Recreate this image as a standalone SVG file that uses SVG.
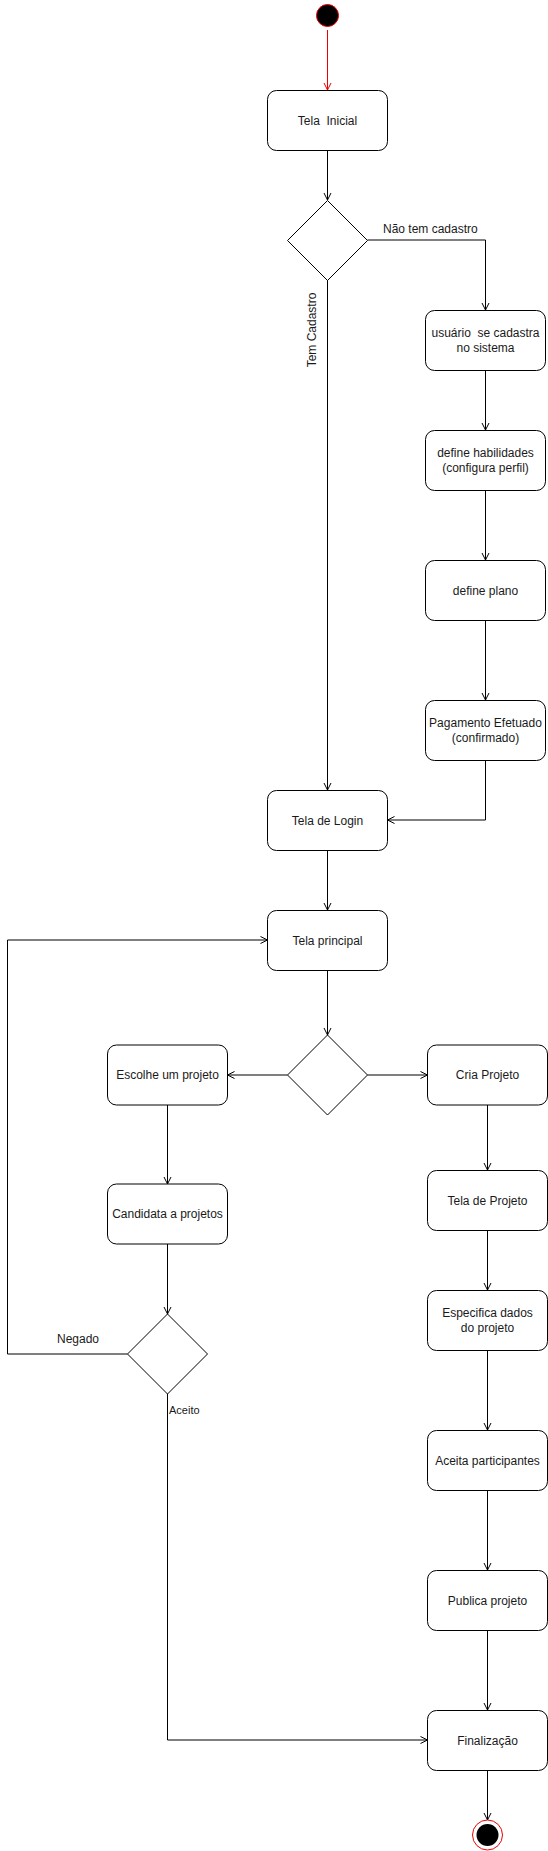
<svg xmlns="http://www.w3.org/2000/svg" width="548" height="1851" viewBox="0 0 548 1851">
<style>
.box{fill:#fff;stroke:#000;stroke-width:1}
.dia{fill:#fff;stroke:#000;stroke-width:1}
.t{font-family:"Liberation Sans",Arial,sans-serif;font-size:12px;fill:#1a1a1a;text-anchor:middle;dominant-baseline:central;white-space:pre}
.lbl{font-family:"Liberation Sans",Arial,sans-serif;font-size:12px;fill:#1a1a1a;dominant-baseline:central;white-space:pre}
.e{fill:none;stroke:#000;stroke-width:1;marker-end:url(#arr)}
.er{fill:none;stroke:#e00;stroke-width:1;marker-end:url(#arrR)}
</style>
<defs>
<marker id="arr" markerUnits="userSpaceOnUse" markerWidth="10" markerHeight="10" viewBox="-8 -5 10 10" refX="0" refY="0" orient="auto" overflow="visible">
<path d="M-7,-3.5 L0,0 L-7,3.5" fill="none" stroke="#000" stroke-width="1"/>
</marker>
<marker id="arrR" markerUnits="userSpaceOnUse" markerWidth="10" markerHeight="10" viewBox="-8 -5 10 10" refX="0" refY="0" orient="auto" overflow="visible">
<path d="M-7,-3.5 L0,0 L-7,3.5" fill="none" stroke="#e00" stroke-width="1"/>
</marker>
</defs>
<rect width="548" height="1851" fill="#fff"/>
<g id="connectors">
<path class="er" d="M327.5,30 L327.5,90"/>
<path class="e" d="M327.5,150 L327.5,200"/>
<path class="e" d="M367.5,240 L485.5,240 L485.5,310"/>
<path class="e" d="M327.5,280 L327.5,790"/>
<path class="e" d="M485.5,370 L485.5,430"/>
<path class="e" d="M485.5,490 L485.5,560"/>
<path class="e" d="M485.5,620 L485.5,700"/>
<path class="e" d="M485.5,760 L485.5,820 L387.5,820"/>
<path class="e" d="M327.5,850 L327.5,910"/>
<path class="e" d="M327.5,970 L327.5,1035"/>
<path class="e" d="M287.5,1075 L227.5,1075"/>
<path class="e" d="M367.5,1075 L427.5,1075"/>
<path class="e" d="M167.5,1105 L167.5,1184"/>
<path class="e" d="M167.5,1244 L167.5,1314"/>
<path class="e" d="M127.5,1354 L7.5,1354 L7.5,940 L267.5,940"/>
<path class="e" d="M167.5,1394 L167.5,1740 L427.5,1740"/>
<path class="e" d="M487.5,1105 L487.5,1170"/>
<path class="e" d="M487.5,1230 L487.5,1290"/>
<path class="e" d="M487.5,1350 L487.5,1430"/>
<path class="e" d="M487.5,1490 L487.5,1570"/>
<path class="e" d="M487.5,1630 L487.5,1710"/>
<path class="e" d="M487.5,1770 L487.5,1820"/>
<text class="lbl" x="383" y="229">Não tem cadastro</text>
<text class="lbl" x="0" y="0" text-anchor="middle" transform="translate(312,330) rotate(-90)">Tem Cadastro</text>
<text class="lbl" x="57" y="1339">Negado</text>
<text class="lbl" x="169" y="1410" style="font-size:11px">Aceito</text>
</g>
<g id="start">
<circle cx="327.5" cy="15.5" r="11" fill="#000" stroke="#e00" stroke-width="1"/>
</g>
<g id="telaInicial">
<rect class="box" x="267.5" y="90.5" width="120" height="60" rx="9"/>
<text class="t" x="327.5" y="120.5">Tela  Inicial</text>
</g>
<g id="decisao1">
<path class="dia" d="M327.5,200.5 L367.5,240.5 L327.5,280.5 L287.5,240.5 Z"/>
</g>
<g id="cadastro">
<rect class="box" x="425.5" y="310.5" width="120" height="60" rx="9"/>
<text class="t" x="485.5" y="333">usuário  se cadastra</text>
<text class="t" x="485.5" y="348">no sistema</text>
</g>
<g id="habilidades">
<rect class="box" x="425.5" y="430.5" width="120" height="60" rx="9"/>
<text class="t" x="485.5" y="453">define habilidades</text>
<text class="t" x="485.5" y="468">(configura perfil)</text>
</g>
<g id="plano">
<rect class="box" x="425.5" y="560.5" width="120" height="60" rx="9"/>
<text class="t" x="485.5" y="590.5">define plano</text>
</g>
<g id="pagamento">
<rect class="box" x="425.5" y="700.5" width="120" height="60" rx="9"/>
<text class="t" x="485.5" y="723">Pagamento Efetuado</text>
<text class="t" x="485.5" y="738">(confirmado)</text>
</g>
<g id="login">
<rect class="box" x="267.5" y="790.5" width="120" height="60" rx="9"/>
<text class="t" x="327.5" y="820.5">Tela de Login</text>
</g>
<g id="principal">
<rect class="box" x="267.5" y="910.5" width="120" height="60" rx="9"/>
<text class="t" x="327.5" y="940.5">Tela principal</text>
</g>
<g id="decisao2">
<path class="dia" d="M327.5,1035 L367.5,1075 L327.5,1115 L287.5,1075 Z"/>
</g>
<g id="escolhe">
<rect class="box" x="107.5" y="1045" width="120" height="60" rx="9"/>
<text class="t" x="167.5" y="1075">Escolhe um projeto</text>
</g>
<g id="candidata">
<rect class="box" x="107.5" y="1184" width="120" height="60" rx="9"/>
<text class="t" x="167.5" y="1214">Candidata a projetos</text>
</g>
<g id="decisao3">
<path class="dia" d="M167.5,1314 L207.5,1354 L167.5,1394 L127.5,1354 Z"/>
</g>
<g id="cria">
<rect class="box" x="427.5" y="1045" width="120" height="60" rx="9"/>
<text class="t" x="487.5" y="1075">Cria Projeto</text>
</g>
<g id="telaProjeto">
<rect class="box" x="427.5" y="1170.5" width="120" height="60" rx="9"/>
<text class="t" x="487.5" y="1200.5">Tela de Projeto</text>
</g>
<g id="especifica">
<rect class="box" x="427.5" y="1290.5" width="120" height="60" rx="9"/>
<text class="t" x="487.5" y="1313">Especifica dados</text>
<text class="t" x="487.5" y="1328">do projeto</text>
</g>
<g id="aceita">
<rect class="box" x="427.5" y="1430.5" width="120" height="60" rx="9"/>
<text class="t" x="487.5" y="1460.5">Aceita participantes</text>
</g>
<g id="publica">
<rect class="box" x="427.5" y="1570.5" width="120" height="60" rx="9"/>
<text class="t" x="487.5" y="1600.5">Publica projeto</text>
</g>
<g id="finalizacao">
<rect class="box" x="427.5" y="1710.5" width="120" height="60" rx="9"/>
<text class="t" x="487.5" y="1740.5">Finalização</text>
</g>
<g id="end">
<circle cx="487.5" cy="1835" r="15" fill="#fff" stroke="#e00" stroke-width="1"/>
<circle cx="487.5" cy="1835" r="11" fill="#000"/>
</g>
</svg>
